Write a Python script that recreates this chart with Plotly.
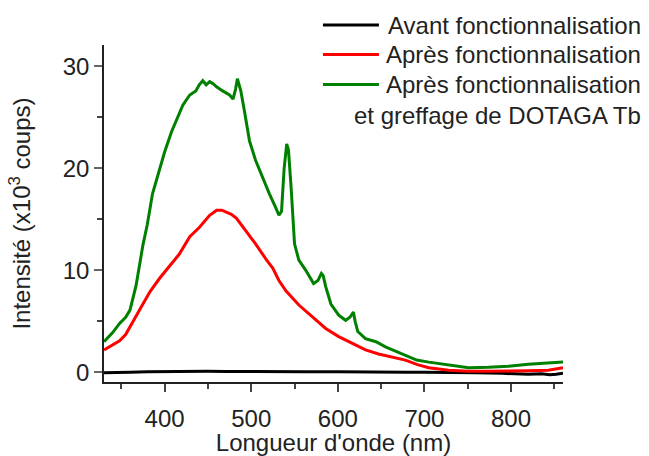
import plotly.graph_objects as go

# Wavelengths (nm) and intensities (x10^3 counts)
wl_black = [330, 345, 360, 380, 400, 410, 420, 435, 450, 470, 500, 530, 560, 600, 640, 680, 700, 730, 760, 790, 805, 820, 835, 845, 852, 860]
int_black = [-0.05, -0.05, 0.0, 0.05, 0.08, 0.1, 0.12, 0.1, 0.1, 0.08, 0.05, 0.05, 0.05, 0.05, 0.0, 0.0, 0.0, 0.0, -0.05, -0.1, -0.15, -0.2, -0.15, -0.25, -0.2, -0.1]

wl_red = [330, 340, 348, 355, 360, 365, 371, 377, 383, 394, 406, 417, 429, 440, 452, 460, 466, 471, 477, 483, 494, 505, 517, 525, 532, 540, 555, 571, 586, 601, 617, 632, 647, 663, 678, 692, 705, 728, 751, 774, 797, 820, 843, 860]
int_red = [2.2, 2.7, 3.1, 3.7, 4.4, 5.2, 6.1, 7.0, 7.9, 9.2, 10.5, 11.6, 13.3, 14.2, 15.4, 15.9, 15.9, 15.7, 15.5, 15.1, 13.9, 12.6, 11.1, 10.2, 9.0, 8.0, 6.6, 5.4, 4.3, 3.5, 2.8, 2.2, 1.8, 1.5, 1.2, 0.75, 0.45, 0.2, 0.1, 0.1, 0.1, 0.15, 0.2, 0.45]

wl_green = [330, 340, 348, 355, 360, 367, 375, 380, 386, 394, 400, 408, 415, 421, 429, 436, 440, 444, 448, 452, 456, 460, 467, 475, 479, 482, 484, 486, 488, 492, 498, 505, 513, 521, 528, 532, 535, 538, 541, 543, 546, 548, 550, 555, 563, 572, 577, 581, 583, 586, 592, 601, 609, 614, 618, 620, 623, 632, 644, 655, 663, 678, 691, 705, 728, 751, 774, 797, 820, 843, 860]
int_green = [3.0, 3.9, 4.8, 5.4, 6.1, 8.5, 12.5, 14.5, 17.5, 19.8, 21.6, 23.6, 25.0, 26.2, 27.2, 27.6, 28.2, 28.6, 28.2, 28.5, 28.3, 28.0, 27.6, 27.2, 26.8, 27.8, 28.8, 28.3, 27.6, 25.7, 22.7, 20.8, 19.1, 17.5, 16.2, 15.4, 15.8, 20.0, 22.4, 21.8, 18.2, 15.0, 12.6, 11.0, 10.0, 8.7, 9.0, 9.7, 9.5, 8.4, 6.7, 5.6, 5.1, 5.4, 5.9, 5.0, 4.0, 3.3, 3.0, 2.5, 2.2, 1.7, 1.2, 1.0, 0.7, 0.45, 0.5, 0.6, 0.8, 0.9, 1.0]

series_names = ["Avant fonctionnalisation", "Après fonctionnalisation", "Après fonctionnalisation", "et greffage de DOTAGA Tb"]
colors = ["#000000", "#FF0000", "#008000"]

x_ticks = [400, 500, 600, 700, 800]
y_ticks = [0, 10, 20, 30]

FONT = "Liberation Sans, Arial, sans-serif"

fig = go.Figure()
for wl, inten, col in [(wl_black, int_black, colors[0]), (wl_red, int_red, colors[1]), (wl_green, int_green, colors[2])]:
    fig.add_trace(go.Scatter(x=wl, y=inten, mode="lines", line=dict(color=col, width=3), showlegend=False))

fig.update_layout(
    width=649, height=456,
    margin=dict(l=104, r=86, t=45, b=74),
    paper_bgcolor="white", plot_bgcolor="white",
    font=dict(family=FONT, size=24, color="#222"),
)
fig.update_xaxes(
    range=[330, 860], tickvals=x_ticks, showgrid=False, zeroline=False, automargin=False,
    showline=True, linecolor="#222", linewidth=1.5,
    ticks="outside", ticklen=8, tickwidth=1.5, tickcolor="#444", ticklabelstandoff=6,
    minor=dict(dtick=50, tick0=350, ticks="outside", ticklen=5, tickwidth=1.5, tickcolor="#444"),
    tickfont=dict(size=24),
    title=dict(text="Longueur d'onde (nm)", font=dict(size=24), standoff=2),
)
fig.update_yaxes(
    range=[-0.95, 32.1], tickvals=y_ticks, showgrid=False, zeroline=False, automargin=False,
    showline=True, linecolor="#222", linewidth=1.5,
    ticks="outside", ticklen=8, tickwidth=1.5, tickcolor="#666",
    minor=dict(dtick=5, tick0=5, ticks="outside", ticklen=5, tickwidth=1.5, tickcolor="#444"),
    tickfont=dict(size=24),
    title=dict(text="Intensité (x10<sup>3</sup> coups)", font=dict(size=24), standoff=25),
)

# Manual legend (lines + right-aligned text)
rows_y = [1.059, 0.972, 0.883, 0.792]
for i in range(3):
    fig.add_shape(type="line", xref="paper", yref="paper", x0=0.477, x1=0.599, y0=rows_y[i], y1=rows_y[i],
                  line=dict(color=colors[i], width=3))
for i, name in enumerate(series_names):
    fig.add_annotation(text=name, xref="paper", yref="paper", x=1.174, y=rows_y[i],
                       xanchor="right", yanchor="middle", showarrow=False,
                       font=dict(family=FONT, size=24, color="#222"))

fig.write_html("out.html", config={"displayModeBar": False},
               post_script="document.body.style.margin='0';")
